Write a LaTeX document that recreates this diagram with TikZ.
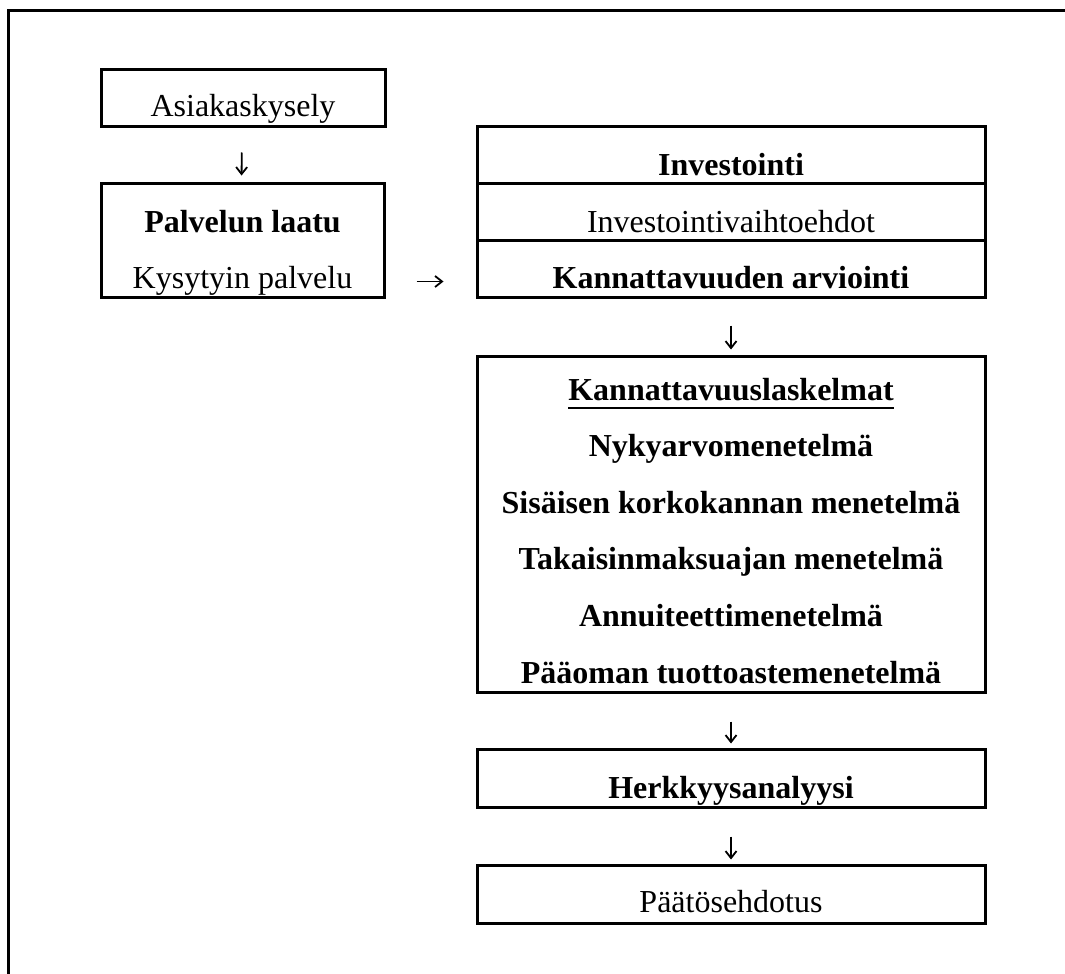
\documentclass[tikz,border=0pt]{standalone}
\usepackage{fontspec}
\setmainfont{Liberation Serif}
\usetikzlibrary{arrows.meta}
\begin{document}
\begin{tikzpicture}[x=1pt,y=-1pt,
  box/.style={draw, line width=3pt, rectangle, inner sep=0pt},
  txt/.style={anchor=base, inner sep=0pt, font=\fontsize{32}{38}\selectfont},
  btxt/.style={anchor=base, inner sep=0pt, font=\fontsize{32}{38}\selectfont\bfseries},
  conn/.style={line width=1.8pt, -{Straight Barb[length=7pt,width=11pt,line width=1.8pt]}}]
\useasboundingbox (0,0) rectangle (1065,974);
% outer frame
\draw[line width=3pt] (1065,11) -- (8,11) -- (8,974);
% left column
\node[box, minimum width=284pt, minimum height=56pt] (asia) at (243,98) {};
\node[txt] (asiat) at (243,116) {Asiakaskysely};
\node[box, minimum width=283pt, minimum height=114pt] (palv) at (242.5,240) {};
\node[btxt] (palv1) at (242.5,232) {Palvelun laatu};
\node[txt] (palv2) at (242.5,288) {Kysytyin palvelu};
% right column
\node[box, minimum width=508pt, minimum height=57pt] (inv1) at (731,154.5) {};
\node[box, minimum width=508pt, minimum height=57pt] (inv2) at (731,211.5) {};
\node[box, minimum width=508pt, minimum height=57pt] (inv3) at (731,268.5) {};
\node[btxt] (inv1t) at (731,175) {Investointi};
\node[txt] (inv2t) at (731,232) {Investointivaihtoehdot};
\node[btxt] (inv3t) at (731,288) {Kannattavuuden arviointi};
\node[box, minimum width=508pt, minimum height=336pt] (kl) at (731,524) {};
\node[btxt] (kl0) at (731,400) {Kannattavuuslaskelmat};
\draw[line width=1.8pt] ([yshift=-8pt]kl0.base west) -- ([yshift=-8pt]kl0.base east);
\node[btxt] (kl1) at (731,456.6) {Nykyarvomenetelmä};
\node[btxt] (kl2) at (731,513.2) {Sisäisen korkokannan menetelmä};
\node[btxt] (kl3) at (731,569.8) {Takaisinmaksuajan menetelmä};
\node[btxt] (kl4) at (731,626.4) {Annuiteettimenetelmä};
\node[btxt] (kl5) at (731,683) {Pääoman tuottoastemenetelmä};
\node[box, minimum width=508pt, minimum height=58pt] (herk) at (731,778) {};
\node[btxt] (herkt) at (731,798) {Herkkyysanalyysi};
\node[box, minimum width=508pt, minimum height=58pt] (paat) at (731,894) {};
\node[txt] (paatt) at (731,912) {Päätösehdotus};
% connectors
\coordinate (rA) at ([yshift=17pt]palv.south east);
\coordinate (rB) at ([yshift=17pt]inv3.south west);
\draw[conn, shorten <=25pt, shorten >=6pt] ([xshift=-1pt]asia.south) -- ([xshift=-1pt]palv.north);
\draw[conn, shorten <=31pt, shorten >=32pt] (rA) -- (rB);
\draw[conn, shorten <=27pt, shorten >=5pt] (inv3.south) -- (kl.north);
\draw[conn, shorten <=28pt, shorten >=4pt] (kl.south) -- (herk.north);
\draw[conn, shorten <=28pt, shorten >=4pt] (herk.south) -- (paat.north);
\end{tikzpicture}
\end{document}
